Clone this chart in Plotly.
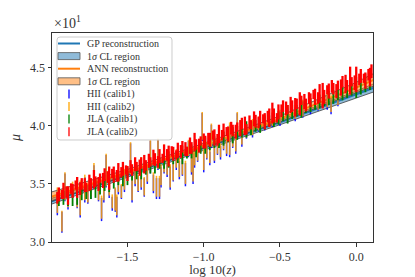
import plotly.graph_objects as go

# ---------------- reconstructions (mu in units of 10) ----------------
rec_x = [-2.0, -1.5, -1.0, -0.5, 0.0, 0.12]
gp_mu = [3.35, 3.58, 3.81, 4.03, 4.27, 4.33]
gp_sig = [0.025, 0.02, 0.02, 0.02, 0.03, 0.035]
ann_mu = [3.39, 3.60, 3.83, 4.06, 4.33, 4.40]
ann_sig = [0.04, 0.025, 0.02, 0.025, 0.045, 0.055]

# ---------------- HII galaxies ----------------
hii_x = [-1.96, -1.93, -1.91, -1.89, -1.86, -1.83, -1.81, -1.78, -1.76, -1.74,
         -1.72, -1.69, -1.67, -1.655, -1.64, -1.62, -1.60, -1.58, -1.57, -1.56,
         -1.54, -1.52, -1.48, -1.47, -1.45, -1.43, -1.41, -1.39, -1.37, -1.35,
         -1.33, -1.31, -1.30, -1.29, -1.28, -1.26, -1.24, -1.22, -1.20, -1.18,
         -1.16, -1.14, -1.12, -1.10, -1.08, -1.07, -1.06, -1.04, -1.01, -1.00,
         -0.98, -0.96, -0.95, -0.93, -0.91, -0.89, -0.87, -0.85, -0.83, -0.81,
         -0.79, -0.78, -0.75, -0.72, -0.68, -0.64, -0.60, -0.55, -0.50, -0.45,
         -0.40, -0.35, -0.30, -0.25, -0.19, -0.165, -0.12]
hii2_mu = [3.36, 3.18, 3.48, 3.35, 3.46, 3.37, 3.38, 3.47, 3.42, 3.44,
           3.58, 3.42, 3.30, 3.44, 3.62, 3.46, 3.35, 3.37, 3.32, 3.50,
           3.44, 3.54, 3.72, 3.48, 3.58, 3.51, 3.60, 3.48, 3.59, 3.74,
           3.52, 3.48, 3.76, 3.48, 3.58, 3.72, 3.64, 3.57, 3.61, 3.72,
           3.64, 3.66, 3.60, 3.81, 3.68, 3.65, 3.72, 3.76, 4.00, 3.71,
           3.79, 3.74, 3.92, 3.78, 3.83, 3.79, 3.88, 3.82, 3.89, 3.90,
           3.84, 4.03, 3.90, 3.96, 3.99, 4.02, 4.04, 4.06, 4.08, 4.10,
           4.12, 4.15, 4.18, 4.20, 4.22, 4.19, 4.24]
hii1_mu = [3.34, 3.17, 3.47, 3.33, 3.44, 3.36, 3.36, 3.45, 3.41, 3.42,
           3.56, 3.41, 3.28, 3.42, 3.61, 3.44, 3.33, 3.36, 3.30, 3.48,
           3.43, 3.52, 3.71, 3.46, 3.56, 3.50, 3.58, 3.47, 3.57, 3.73,
           3.50, 3.46, 3.75, 3.46, 3.56, 3.71, 3.62, 3.55, 3.60, 3.70,
           3.62, 3.65, 3.58, 3.80, 3.66, 3.63, 3.70, 3.75, 3.99, 3.69,
           3.78, 3.72, 3.91, 3.76, 3.82, 3.77, 3.87, 3.80, 3.87, 3.89,
           3.82, 4.02, 3.88, 3.95, 3.97, 4.01, 4.02, 4.05, 4.06, 4.09,
           4.10, 4.14, 4.16, 4.19, 4.20, 4.17, 4.23]
hii_err = [0.11, 0.09, 0.12, 0.05, 0.06, 0.07, 0.15, 0.11, 0.08, 0.05,
           0.10, 0.06, 0.10, 0.08, 0.14, 0.06, 0.06, 0.10, 0.09, 0.07,
           0.06, 0.09, 0.14, 0.12, 0.08, 0.07, 0.13, 0.08, 0.07, 0.14,
           0.08, 0.09, 0.13, 0.09, 0.09, 0.12, 0.06, 0.10, 0.08, 0.08,
           0.08, 0.08, 0.10, 0.07, 0.08, 0.13, 0.06, 0.06, 0.12, 0.09,
           0.07, 0.06, 0.10, 0.08, 0.07, 0.06, 0.08, 0.06, 0.14, 0.08,
           0.06, 0.09, 0.06, 0.06, 0.07, 0.06, 0.06, 0.06, 0.06, 0.06,
           0.06, 0.07, 0.06, 0.06, 0.06, 0.07, 0.06]

# ---------------- JLA supernovae ----------------
jla2_x = [-1.96, -1.95, -1.93, -1.92, -1.90, -1.89, -1.87, -1.86, -1.84, -1.83,
          -1.81, -1.80, -1.78, -1.77, -1.75, -1.74, -1.72, -1.71, -1.69, -1.68,
          -1.66, -1.65, -1.63, -1.62, -1.60, -1.59, -1.57, -1.56, -1.54, -1.53,
          -1.51, -1.50, -1.48, -1.47, -1.45, -1.44, -1.42, -1.41, -1.39, -1.38,
          -1.36, -1.35, -1.33, -1.32, -1.30, -1.29, -1.27, -1.26, -1.24, -1.23,
          -1.21, -1.20, -1.18, -1.17, -1.15, -1.14, -1.12, -1.11, -1.09, -1.08,
          -1.06, -1.05, -1.03, -1.02, -1.00, -0.99, -0.97, -0.96, -0.94, -0.93,
          -0.91, -0.90, -0.88, -0.87, -0.85, -0.84, -0.82, -0.81, -0.79, -0.78,
          -0.76, -0.75, -0.73, -0.72, -0.70, -0.69, -0.67, -0.66, -0.64, -0.63,
          -0.61, -0.60, -0.58, -0.57, -0.55, -0.54, -0.52, -0.51, -0.49, -0.48,
          -0.46, -0.45, -0.43, -0.42, -0.40, -0.39, -0.37, -0.36, -0.34, -0.33,
          -0.31, -0.30, -0.28, -0.27, -0.25, -0.24, -0.22, -0.21, -0.19, -0.18,
          -0.16, -0.15, -0.13, -0.12, -0.10, -0.09, -0.07, -0.06, -0.04, -0.03,
          -0.01, 0.00, 0.02, 0.03, 0.05, 0.06, 0.08, 0.09, 0.10]
jla2_mu = [3.38, 3.41, 3.41, 3.44, 3.43, 3.40, 3.46, 3.44, 3.49, 3.47,
           3.46, 3.50, 3.49, 3.47, 3.51, 3.50, 3.54, 3.52, 3.50, 3.55,
           3.53, 3.58, 3.56, 3.55, 3.59, 3.58, 3.57, 3.60, 3.60, 3.63,
           3.62, 3.59, 3.65, 3.62, 3.67, 3.65, 3.64, 3.68, 3.67, 3.66,
           3.70, 3.69, 3.73, 3.71, 3.69, 3.74, 3.72, 3.77, 3.75, 3.74,
           3.78, 3.76, 3.75, 3.79, 3.78, 3.82, 3.80, 3.78, 3.83, 3.81,
           3.86, 3.84, 3.83, 3.87, 3.87, 3.86, 3.89, 3.88, 3.92, 3.90,
           3.88, 3.93, 3.92, 3.96, 3.95, 3.93, 3.98, 3.96, 3.95, 3.99,
           3.98, 4.02, 4.00, 3.97, 4.03, 4.01, 4.06, 4.04, 4.03, 4.07,
           4.06, 4.04, 4.08, 4.07, 4.11, 4.09, 4.07, 4.12, 4.13, 4.17,
           4.15, 4.14, 4.18, 4.17, 4.16, 4.19, 4.19, 4.22, 4.21, 4.18,
           4.24, 4.22, 4.27, 4.25, 4.24, 4.28, 4.26, 4.25, 4.31, 4.30,
           4.34, 4.32, 4.30, 4.35, 4.33, 4.38, 4.36, 4.35, 4.39, 4.38,
           4.37, 4.40, 4.40, 4.43, 4.41, 4.39, 4.44, 4.42, 4.47]
jla2_err = [0.05, 0.06, 0.04, 0.07, 0.05, 0.08, 0.045, 0.06, 0.04, 0.09, 0.055,
            0.05, 0.06, 0.04, 0.07, 0.05, 0.08, 0.045, 0.06, 0.04, 0.065, 0.055,
            0.05, 0.10, 0.04, 0.07, 0.05, 0.08, 0.045, 0.06, 0.04, 0.065, 0.055,
            0.05, 0.06, 0.04, 0.07, 0.05, 0.08, 0.045, 0.06, 0.04, 0.065, 0.055,
            0.05, 0.06, 0.04, 0.07, 0.05, 0.09, 0.045, 0.06, 0.04, 0.065, 0.055,
            0.05, 0.06, 0.04, 0.07, 0.05, 0.08, 0.045, 0.06, 0.04, 0.065, 0.055,
            0.05, 0.06, 0.04, 0.07, 0.05, 0.08, 0.045, 0.06, 0.04, 0.065, 0.055,
            0.05, 0.06, 0.04, 0.07, 0.05, 0.08, 0.045, 0.06, 0.04, 0.065, 0.055,
            0.05, 0.06, 0.04, 0.07, 0.05, 0.08, 0.09, 0.06, 0.04, 0.065, 0.055,
            0.05, 0.06, 0.04, 0.07, 0.05, 0.08, 0.045, 0.10, 0.04, 0.065, 0.055,
            0.05, 0.06, 0.04, 0.07, 0.05, 0.08, 0.11, 0.06, 0.04, 0.065, 0.055,
            0.05, 0.06, 0.04, 0.07, 0.05, 0.08, 0.045, 0.12, 0.04, 0.065, 0.11,
            0.05, 0.06, 0.04, 0.07, 0.05, 0.08, 0.06]

jla1_x = [-1.95, -1.92, -1.89, -1.86, -1.83, -1.80, -1.77, -1.74, -1.71, -1.68,
          -1.65, -1.62, -1.59, -1.56, -1.53, -1.50, -1.47, -1.44, -1.41, -1.38,
          -1.35, -1.32, -1.29, -1.26, -1.23, -1.20, -1.17, -1.14, -1.11, -1.08,
          -1.05, -1.02, -0.99, -0.96, -0.93, -0.90, -0.87, -0.84, -0.81, -0.78,
          -0.75, -0.72, -0.69, -0.66, -0.63, -0.60, -0.57, -0.54, -0.51, -0.48,
          -0.45, -0.42, -0.39, -0.36, -0.33, -0.30, -0.27, -0.24, -0.21, -0.18,
          -0.15, -0.12, -0.09, -0.06, -0.03, 0.00, 0.03, 0.06, 0.09]
jla1_mu = [3.37, 3.38, 3.36, 3.38, 3.40, 3.41, 3.43, 3.44, 3.46, 3.47,
           3.49, 3.51, 3.52, 3.54, 3.55, 3.57, 3.58, 3.60, 3.61, 3.63,
           3.65, 3.66, 3.68, 3.69, 3.71, 3.72, 3.74, 3.75, 3.77, 3.78,
           3.80, 3.81, 3.83, 3.85, 3.86, 3.88, 3.89, 3.91, 3.92, 3.94,
           3.95, 3.97, 3.98, 4.00, 4.01, 4.03, 4.04, 4.06, 4.07, 4.09,
           4.10, 4.12, 4.13, 4.15, 4.16, 4.18, 4.19, 4.21, 4.22, 4.24,
           4.25, 4.27, 4.28, 4.30, 4.31, 4.33, 4.34, 4.37, 4.39]
jla1_err = [0.06, 0.06, 0.05, 0.07, 0.08, 0.05, 0.06, 0.07, 0.08, 0.06,
            0.05, 0.08, 0.06, 0.05, 0.07, 0.08, 0.05, 0.06, 0.07, 0.05,
            0.06, 0.07, 0.05, 0.06, 0.07, 0.05, 0.06, 0.08, 0.05, 0.06,
            0.07, 0.05, 0.07, 0.06, 0.05, 0.07, 0.06, 0.05, 0.07, 0.06,
            0.05, 0.07, 0.06, 0.05, 0.07, 0.06, 0.05, 0.07, 0.06, 0.05,
            0.08, 0.06, 0.05, 0.08, 0.05, 0.06, 0.05, 0.06, 0.05, 0.06,
            0.06, 0.05, 0.06, 0.06, 0.05, 0.09, 0.07, 0.08, 0.08]

legend_labels = ["GP reconstruction", "1<i>σ</i> CL region", "ANN reconstruction",
                 "1<i>σ</i> CL region", "HII (calib1)", "HII (calib2)",
                 "JLA (calib1)", "JLA (calib2)"]

FONT = "Liberation Serif"
C0 = "#1f77b4"
C1 = "#ff7f0e"
BAND_GP = "rgba(31,119,180,0.5)"
BAND_ANN = "rgba(255,127,14,0.5)"

fig = go.Figure()

def band(x, mu, sig, fill):
    lo = [m - s for m, s in zip(mu, sig)]
    hi = [m + s for m, s in zip(mu, sig)]
    fig.add_trace(go.Scatter(x=x, y=lo, mode="lines", line=dict(color="#444", width=0.8),
                             showlegend=False, hoverinfo="skip"))
    fig.add_trace(go.Scatter(x=x, y=hi, mode="lines", line=dict(color="#444", width=0.8),
                             fill="tonexty", fillcolor=fill, showlegend=False, hoverinfo="skip"))

fig.add_trace(go.Scatter(x=rec_x, y=gp_mu, mode="lines", line=dict(color=C0, width=2),
                         showlegend=False))
band(rec_x, gp_mu, gp_sig, BAND_GP)
fig.add_trace(go.Scatter(x=rec_x, y=ann_mu, mode="lines", line=dict(color=C1, width=2),
                         showlegend=False))
band(rec_x, ann_mu, ann_sig, BAND_ANN)

def ebars(x, mu, err, color, thick):
    fig.add_trace(go.Scatter(x=x, y=mu, mode="markers",
                             marker=dict(size=1, color="rgba(0,0,0,0)"),
                             error_y=dict(type="data", array=err, color=color,
                                          thickness=thick, width=0),
                             showlegend=False, hoverinfo="skip"))

ebars(hii_x, hii1_mu, hii_err, "rgba(0,0,255,0.9)", 1.5)
ebars(hii_x, hii2_mu, hii_err, "rgba(255,165,0,0.85)", 1.6)
ebars(jla1_x, jla1_mu, jla1_err, "green", 1.8)
ebars(jla2_x, jla2_mu, jla2_err, "red", 2.3)

# The page body has an 8 px margin: the figure is placed at (8, 8) in the window.
OFF = 8
W, H = 415 - OFF, 277 - OFF
# plot-area edges in window pixels
L_, R_, T_, B_ = 52, 373, 33, 242

def px(x):
    return (x - L_) / (R_ - L_)
def py(y):
    return (B_ - y) / (B_ - T_)

def rounded_box(x0, x1, y0, y1, r):
    pts = [
        ("M", px(x0 + r), py(y0)), ("L", px(x1 - r), py(y0)),
        ("Q", px(x1), py(y0), px(x1), py(y0 + r)), ("L", px(x1), py(y1 - r)),
        ("Q", px(x1), py(y1), px(x1 - r), py(y1)), ("L", px(x0 + r), py(y1)),
        ("Q", px(x0), py(y1), px(x0), py(y1 - r)), ("L", px(x0), py(y0 + r)),
        ("Q", px(x0), py(y0), px(x0 + r), py(y0)),
    ]
    s = ""
    for p in pts:
        s += p[0] + " " + " ".join(f"{v:.5f}" for v in p[1:]) + " "
    return s + "Z"

shapes = [dict(type="path", xref="paper", yref="paper",
               path=rounded_box(57, 172, 37, 140, 3),
               fillcolor="rgba(255,255,255,0.8)",
               line=dict(color="#cccccc", width=1), layer="above")]
annotations = []
row_y = [43.5, 56.1, 68.7, 81.3, 93.9, 106.5, 119.1, 131.7]
handles = [("line", C0), ("patch", BAND_GP), ("line", C1), ("patch", BAND_ANN),
           ("bar", "blue"), ("bar", "orange"), ("bar", "green"), ("bar", "red")]
for yy, (kind, col), lab in zip(row_y, handles, legend_labels):
    if kind == "line":
        shapes.append(dict(type="line", xref="paper", yref="paper", x0=px(58), x1=px(80),
                           y0=py(yy), y1=py(yy), line=dict(color=col, width=2), layer="above"))
    elif kind == "patch":
        shapes.append(dict(type="rect", xref="paper", yref="paper", x0=px(58), x1=px(80),
                           y0=py(yy + 3.5), y1=py(yy - 3.5), fillcolor=col,
                           line=dict(color="#555", width=0.8), layer="above"))
    else:
        shapes.append(dict(type="line", xref="paper", yref="paper", x0=px(69), x1=px(69),
                           y0=py(yy + 4.5), y1=py(yy - 4.5), line=dict(color=col, width=1.3),
                           layer="above"))
    annotations.append(dict(text=lab, xref="paper", yref="paper", x=px(85), y=py(yy),
                            xanchor="left", yanchor="middle", showarrow=False,
                            font=dict(family=FONT, size=10, color="#333")))

annotations.append(dict(text="×10<sup>1</sup>", xref="paper", yref="paper", x=0, y=1.0,
                        xanchor="left", yanchor="bottom", showarrow=False,
                        font=dict(family=FONT, size=14, color="#333")))

axis_common = dict(showline=True, linecolor="#333", linewidth=1, mirror=True,
                   ticks="outside", ticklen=3.5, tickcolor="#333", showgrid=False,
                   zeroline=False, automargin=False,
                   tickfont=dict(family=FONT, size=12, color="#333"))

fig.update_layout(
    width=W, height=H,
    margin=dict(l=L_ - OFF, r=415 - R_, t=T_ - OFF, b=277 - B_),
    paper_bgcolor="white", plot_bgcolor="white",
    font=dict(family=FONT, color="#333"),
    showlegend=False,
    xaxis=dict(range=[-1.995, 0.11], tickvals=[-1.5, -1.0, -0.5, 0.0], tickformat=".1f",
               title=dict(text="log 10(<i>z</i>)", font=dict(family=FONT, size=13), standoff=4),
               **axis_common),
    yaxis=dict(range=[3.0, 4.8], tickvals=[3.0, 3.5, 4.0, 4.5], tickformat=".1f",
               title=dict(text="<i>μ</i>", font=dict(family=FONT, size=14), standoff=8),
               **axis_common),
    shapes=shapes,
    annotations=annotations,
)

fig.write_html("out.html")
